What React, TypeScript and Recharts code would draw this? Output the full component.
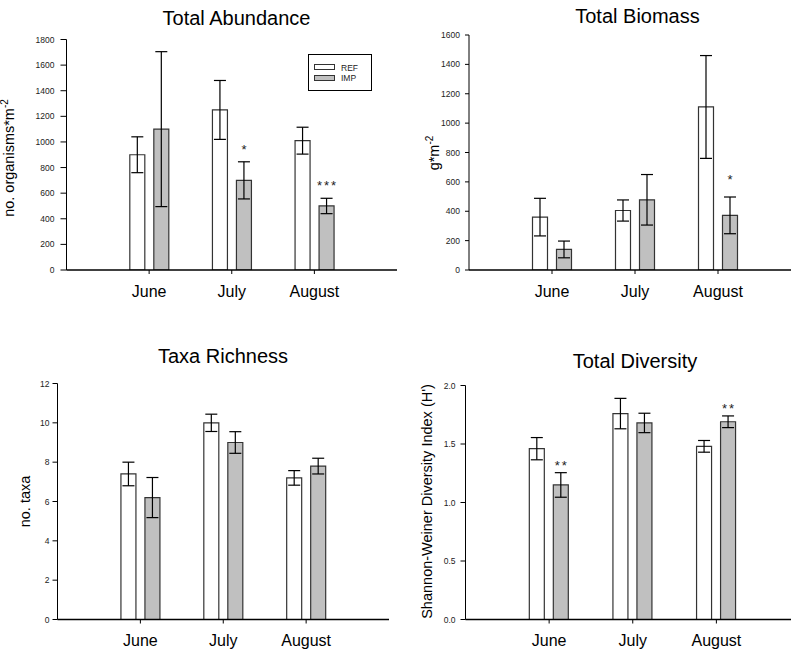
import React from "react";
import { BarChart, Bar, XAxis, YAxis, ErrorBar, LabelList, Legend } from "recharts";

// ---------- data ----------
const months = ["June", "July", "August"];
const seriesOrder = ["REF", "IMP"];

const abundanceRef = [900, 1250, 1010];
const abundanceRefErr = [140, 230, 105];
const abundanceImp = [1100, 700, 500];
const abundanceImpErr = [605, 145, 60];
const abundanceSig = ["", "*", "***"];
const abundanceTicks = [0, 200, 400, 600, 800, 1000, 1200, 1400, 1600, 1800];

const biomassRef = [360, 405, 1110];
const biomassRefErr = [128, 72, 350];
const biomassImp = [140, 478, 372];
const biomassImpErr = [57, 172, 125];
const biomassSig = ["", "", "*"];
const biomassTicks = [0, 200, 400, 600, 800, 1000, 1200, 1400, 1600];

const richnessRef = [7.4, 10.0, 7.2];
const richnessRefErr = [0.6, 0.44, 0.37];
const richnessImp = [6.2, 9.0, 7.8];
const richnessImpErr = [1.02, 0.55, 0.4];
const richnessSig = ["", "", ""];
const richnessTicks = [0, 2, 4, 6, 8, 10, 12];

const diversityRef = [1.46, 1.76, 1.48];
const diversityRefErr = [0.095, 0.13, 0.05];
const diversityImp = [1.15, 1.68, 1.69];
const diversityImpErr = [0.105, 0.083, 0.05];
const diversitySig = ["**", "", "**"];
const diversityTicks = [0, 0.5, 1.0, 1.5, 2.0];

const REF_FILL = "#ffffff";
const IMP_FILL = "#c0c0c0";
const BAR_STROKE = "#333333";

function buildData(ref: number[], refErr: number[], imp: number[], impErr: number[], sig: string[]) {
  return months.map((month, i) => ({
    month,
    REF: ref[i],
    refErr: refErr[i],
    IMP: imp[i],
    impErr: impErr[i],
    sig: sig[i],
  }));
}

const abundanceData = buildData(abundanceRef, abundanceRefErr, abundanceImp, abundanceImpErr, abundanceSig);
const biomassData = buildData(biomassRef, biomassRefErr, biomassImp, biomassImpErr, biomassSig);
const richnessData = buildData(richnessRef, richnessRefErr, richnessImp, richnessImpErr, richnessSig);
const diversityData = buildData(diversityRef, diversityRefErr, diversityImp, diversityImpErr, diversitySig);

// ---------- helpers ----------
const makeStar = (data: any[], gap: number) => (props: any) => {
  const vb = props.viewBox && props.viewBox.width !== undefined ? props.viewBox : props;
  const { x, y, width, height } = vb;
  const value = props.value;
  const index = props.index;
  if (!value || index === undefined) return null;
  const d = data[index];
  const k = height / d.IMP;
  const yTop = y - d.impErr * k;
  return (
    <text
      x={x + width / 2 + 1}
      y={yTop - gap}
      textAnchor="middle"
      fontSize={13}
      letterSpacing={2}
      fill="#222"
    >
      {value}
    </text>
  );
};

const legendContent = (props: any) => {
  const payload = [...(props.payload || [])].sort(
    (a: any, b: any) => seriesOrder.indexOf(a.value) - seriesOrder.indexOf(b.value)
  );
  return (
    <svg width={64} height={38} style={{ display: "block" }}>
      <rect x={0.5} y={0.5} width={63} height={36} fill="#fff" stroke="#000" />
      {payload.map((p: any, i: number) => (
        <g key={i}>
          <rect
            x={6.5}
            y={10.5 + i * 11}
            width={20}
            height={5}
            fill={p.value === "IMP" ? IMP_FILL : REF_FILL}
            stroke={BAR_STROKE}
          />
          <text x={33} y={16.5 + i * 10} fontSize={8.5} fill="#222">
            {p.value}
          </text>
        </g>
      ))}
    </svg>
  );
};

type Plot = { left: number; right: number; top: number; bottom: number };

function Panel(props: {
  left: number;
  top: number;
  width: number;
  height: number;
  plot: Plot;
  data: any[];
  ticks: number[];
  fmt?: (v: number) => string;
  yTickSize: number;
  yTickMargin: number;
  starGap: number;
  legend?: boolean;
}) {
  const { left, top, width, height, plot, data, ticks, fmt, yTickSize, yTickMargin, starGap, legend } = props;
  const yAxisW = 40;
  const xAxisH = 30;
  const margin = {
    top: plot.top - top,
    left: plot.left - left - yAxisW,
    right: left + width - plot.right,
    bottom: top + height - plot.bottom - xAxisH,
  };
  const pad = (plot.right - plot.left) / 8;
  const domain = [ticks[0], ticks[ticks.length - 1]];
  return (
    <div style={{ position: "absolute", left, top }}>
      <BarChart width={width} height={height} data={data} margin={margin} barSize={15} barGap={9}>
        <XAxis
          dataKey="month"
          padding={{ left: pad, right: pad }}
          height={xAxisH}
          interval={0}
          tickSize={4}
          tickMargin={11.6}
          tick={{ fontSize: 16, fill: "#000" }}
          axisLine={{ stroke: "#000", strokeWidth: 1.5 }}
          tickLine={{ stroke: "#000" }}
        />
        <XAxis
          xAxisId="top"
          dataKey="month"
          orientation="top"
          height={0}
          tick={false}
          tickLine={false}
          axisLine={{ stroke: "#666" }}
        />
        <YAxis
          width={yAxisW}
          domain={domain}
          ticks={ticks}
          allowDataOverflow
          interval={0}
          tickFormatter={fmt}
          tickSize={yTickSize}
          tickMargin={yTickMargin}
          tick={{ fontSize: 8.5, fill: "#222" }}
          axisLine={{ stroke: "#000" }}
          tickLine={{ stroke: "#000" }}
        />
        <YAxis
          yAxisId="right"
          orientation="right"
          width={0}
          tick={false}
          tickLine={false}
          axisLine={{ stroke: "#666" }}
        />
        <Bar dataKey="REF" fill={REF_FILL} stroke={BAR_STROKE} strokeWidth={1.2} isAnimationActive={false}>
          <ErrorBar dataKey="refErr" width={6} stroke="#000" strokeWidth={1.2} isAnimationActive={false} />
        </Bar>
        <Bar dataKey="IMP" fill={IMP_FILL} stroke={BAR_STROKE} strokeWidth={1.2} isAnimationActive={false}>
          <ErrorBar dataKey="impErr" width={6} stroke="#000" strokeWidth={1.2} isAnimationActive={false} />
          <LabelList dataKey="sig" content={makeStar(data, starGap)} />
        </Bar>
        {legend ? (
          <Legend
            layout="vertical"
            align="center"
            verticalAlign="middle"
            content={legendContent}
            wrapperStyle={{ position: "absolute", left: 308 - left, top: 54 - top, width: 64, height: 38 }}
          />
        ) : null}
      </BarChart>
    </div>
  );
}

const FONT = "'Liberation Sans', Arial, Helvetica, sans-serif";

export default function App() {
  return (
    <div
      style={{
        position: "absolute",
        left: 0,
        top: 0,
        width: 791,
        height: 654,
        overflow: "hidden",
        background: "#fff",
        fontFamily: FONT,
      }}
    >
      <Panel
        left={0}
        top={0}
        width={400}
        height={320}
        plot={{ left: 66.5, right: 397, top: 39.5, bottom: 270 }}
        data={abundanceData}
        ticks={abundanceTicks}
        yTickSize={6}
        yTickMargin={6}
        starGap={8}
        legend
      />
      <Panel
        left={400}
        top={0}
        width={420}
        height={320}
        plot={{ left: 469, right: 801, top: 35, bottom: 270 }}
        data={biomassData}
        ticks={biomassTicks}
        yTickSize={4}
        yTickMargin={5}
        starGap={13.5}
      />
      <Panel
        left={0}
        top={330}
        width={400}
        height={324}
        plot={{ left: 57.5, right: 389, top: 383.5, bottom: 619.5 }}
        data={richnessData}
        ticks={richnessTicks}
        yTickSize={5}
        yTickMargin={3}
        starGap={5}
      />
      <Panel
        left={400}
        top={330}
        width={420}
        height={324}
        plot={{ left: 465.5, right: 800, top: 385.5, bottom: 619.5 }}
        data={diversityData}
        ticks={diversityTicks}
        fmt={(v: number) => v.toFixed(1)}
        yTickSize={5}
        yTickMargin={5}
        starGap={3}
      />
      <svg
        width={791}
        height={654}
        style={{ position: "absolute", left: 0, top: 0, pointerEvents: "none" }}
      >
        <g fontFamily={FONT} fill="#000">
          <text x={236.5} y={25} textAnchor="middle" fontSize={20}>Total Abundance</text>
          <text x={637.5} y={23} textAnchor="middle" fontSize={20}>Total Biomass</text>
          <text x={223} y={362.5} textAnchor="middle" fontSize={20}>Taxa Richness</text>
          <text x={635} y={368} textAnchor="middle" fontSize={20}>Total Diversity</text>

          <text x={13.5} y={158} textAnchor="middle" fontSize={14.5} transform="rotate(-90 13.5 158)">
            no. organisms*m<tspan dy={-6} fontSize={10}>-2</tspan>
          </text>
          <text x={438.5} y={153} textAnchor="middle" fontSize={14.5} transform="rotate(-90 438.5 153)">
            g*m<tspan dy={-6} fontSize={10}>-2</tspan>
          </text>
          <text x={30} y={501.5} textAnchor="middle" fontSize={14.5} transform="rotate(-90 30 501.5)">
            no. taxa
          </text>
          <text x={431.5} y={501.5} textAnchor="middle" fontSize={14.5} transform="rotate(-90 431.5 501.5)">
            Shannon-Weiner Diversity Index (H')
          </text>
        </g>
      </svg>
    </div>
  );
}
